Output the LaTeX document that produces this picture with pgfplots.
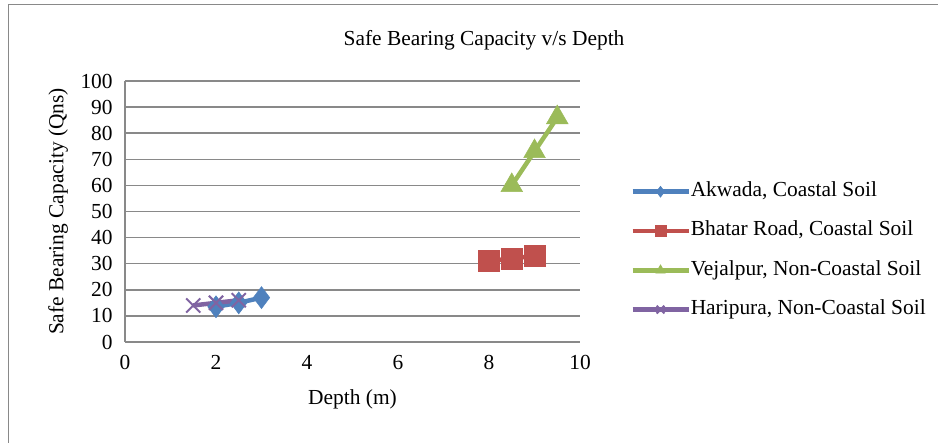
\documentclass[border=0pt]{standalone}
\usepackage{pgfplots}
\pgfplotsset{compat=1.18}
\usepackage{fontspec}
\setmainfont{Liberation Serif}

\definecolor{sbBlue}{HTML}{4F81BD}
\definecolor{sbRed}{HTML}{C0504D}
\definecolor{sbGreen}{HTML}{9BBB59}
\definecolor{sbPurple}{HTML}{8064A2}
\definecolor{frameGray}{HTML}{898989}

\newcommand{\chartfont}{\fontsize{21.5}{25}\selectfont}

\begin{document}
\begin{tikzpicture}[x=1bp,y=1bp]
  \chartfont
  \useasboundingbox (0,0) rectangle (938,443);
  % chart area border (top and left edges)
  \draw[frameGray, line width=1.5bp] (8.5,-5) -- (8.5,438.5) -- (945,438.5);
  % chart title
  \node[font=\chartfont] at (484,403) {Safe Bearing Capacity v/s Depth};

  \begin{axis}[
    at={(125bp,101bp)}, anchor=south west,
    scale only axis,
    width=455bp, height=261bp,
    xmin=0, xmax=10, ymin=0, ymax=100,
    xtick={0,2,...,10}, ytick={0,10,...,100},
    axis x line*=bottom, axis y line*=left,
    axis line style={draw=frameGray, line width=1.5bp, -},
    major tick length=0pt,
    ymajorgrids,
    grid style={draw=frameGray, line width=1.5bp},
    tick label style={font=\chartfont},
    /pgf/number format/assume math mode=true,
    xticklabel style={yshift=-6bp},
    yticklabel style={xshift=-5bp},
    xlabel={Depth (m)}, ylabel={Safe Bearing Capacity (Qns)},
    label style={font=\chartfont},
    xlabel style={at={(axis description cs:0.5,-0.22)}, anchor=center},
    ylabel style={at={(axis description cs:-0.147,0.5)}, anchor=center},
    clip=false,
    legend style={
      at={(1.11,0.35)}, anchor=west, draw=none, fill=none,
      font=\chartfont,
      row sep=19.3bp, inner sep=0pt,
      nodes={inner sep=0pt, text height=15bp, text depth=5bp},
      /tikz/every even column/.append style={column sep=0bp},
    },
    legend cell align=left,
    legend image code/.code={%
      \draw[mark repeat=2, mark phase=2, #1, mark size=5.5bp]
        plot coordinates {(0bp,0bp) (28bp,0bp) (56bp,0bp)};},
    every axis plot/.append style={line width=4.5bp},
  ]
    \addplot[color=sbBlue, mark=diamond*, mark size=11bp,
      mark options={solid, line width=0.5bp}]
      coordinates {(2,13.5) (2.5,15) (3,17)};
    \addlegendentry{Akwada, Coastal Soil}

    \addplot[color=sbRed, mark=square*, mark size=10.5bp,
      mark options={solid, line width=0.5bp}]
      coordinates {(8,31) (8.5,32) (9,33)};
    \addlegendentry{Bhatar Road, Coastal Soil}

    \addplot[color=sbGreen, mark=triangle*, mark size=12.5bp,
      mark options={solid, line width=0.5bp}]
      coordinates {(8.5,60) (9,73) (9.5,86)};
    \addlegendentry{Vejalpur, Non-Coastal Soil}

    \addplot[color=sbPurple, mark=x, mark size=10bp,
      mark options={solid, line width=2bp}]
      coordinates {(1.5,14) (2,15) (2.5,16)};
    \addlegendentry{Haripura, Non-Coastal Soil}
  \end{axis}
\end{tikzpicture}
\end{document}
